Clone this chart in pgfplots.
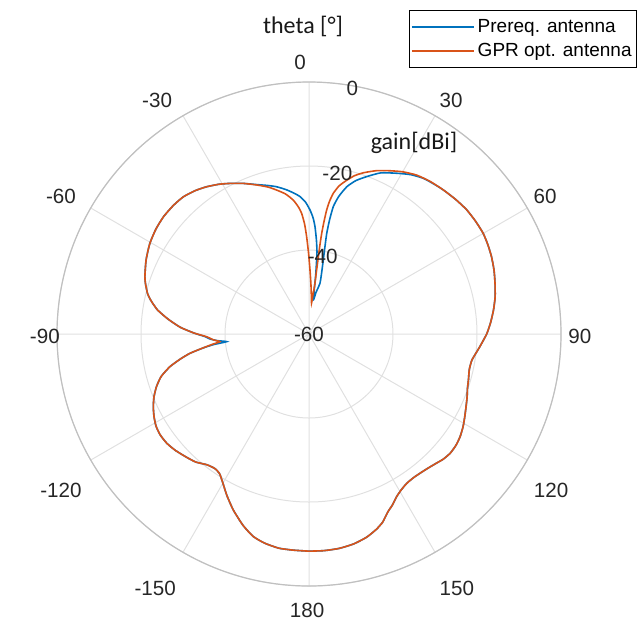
\documentclass[border=0pt]{standalone}
\usepackage{pgfplots}
\pgfplotsset{compat=1.18}
\usepackage{pgfplotstable}
\usepgfplotslibrary{polar}
\usepackage{fontspec}
\setmainfont{Liberation Sans}
\newfontfamily\titlefont{Carlito}

\definecolor{prereq}{RGB}{0,114,189}
\definecolor{gpr}{RGB}{217,83,25}
\definecolor{gridgray}{RGB}{224,224,224}
\definecolor{rimgray}{RGB}{192,192,192}
\definecolor{ticktext}{RGB}{38,38,38}

% theta [deg] (clockwise from boresight), gain [dBi]
\pgfplotstableread{
t g
-180 -8.3
-176 -8.4
-172 -8.5
-168 -9.1
-164.6 -10.0
-161 -11.8
-156.7 -14.4
-153 -16.9
-150 -19.0
-147.4 -20.5
-145 -20.9
-142 -20.5
-138.5 -19.3
-135 -18.6
-131 -17.8
-127.5 -17.3
-124 -17.2
-121 -17.5
-118 -18.2
-115 -19.1
-112 -20.2
-109 -21.6
-106 -23.4
-103.2 -26.0
-101 -28.8
-99.2 -31.3
-97.5 -34.6
-96.3 -37.2
-95.3 -40.3
-94.2 -38.2
-92.8 -36.3
-91.5 -35.3
-89.5 -32.6
-87 -29.3
-84 -26.3
-81 -23.5
-78 -21.5
-76 -20.4
-73 -19.3
-70.7 -18.6
-65.6 -17.4
-60.4 -16.4
-55.5 -15.8
-51 -15.5
-46.5 -15.5
-42.5 -15.7
-38.5 -16.4
-34.8 -17.3
-31 -18.4
-27.7 -19.5
-23.5 -20.9
-19.3 -22.3
-15.5 -23.3
-12.4 -24.1
-9 -25.2
-6 -26.3
-3.75 -27.2
-1.5 -28.6
0.5 -30.5
2 -32.3
3.2 -34.4
4.5 -37.5
5.5 -40.2
5.9 -42.3
6.5 -46.0
7.2 -51.8
9.5 -50.0
12.2 -47.6
11.5 -44.5
10.9 -42.0
10.3 -38.5
10.0 -35.7
10.2 -32.5
10.8 -29.1
12.2 -26.5
14.4 -23.8
17 -21.8
20.1 -20.1
24 -18.0
28.6 -16.4
32.5 -15.0
36.3 -14.0
40 -13.5
43 -13.1
47.5 -12.6
51.8 -12.2
56 -12.1
60 -12.1
63.5 -12.4
67 -12.8
71 -13.4
74.8 -14.1
78.7 -14.8
82.6 -15.7
86.5 -16.7
90 -17.7
94.5 -19.3
99 -20.7
102.5 -20.9
106 -20.5
109 -20.1
111.6 -19.5
114.8 -18.8
118 -18.0
121 -17.2
124.2 -16.5
127.2 -16.1
130.2 -16.0
133 -16.3
135.4 -16.8
138.4 -17.3
141.4 -17.6
144 -17.7
146.8 -17.5
149.3 -16.9
151.7 -16.0
154 -14.7
156.2 -13.6
158.6 -11.9
161 -10.8
164.2 -9.7
168 -8.9
172 -8.45
176 -8.3
180 -8.3
}\prereqtable

\pgfplotstableread{
t g
-180 -8.3
-176 -8.4
-172 -8.5
-168 -9.1
-164.6 -10.0
-161 -11.8
-156.7 -14.4
-153 -16.9
-150 -19.0
-147.4 -20.5
-145 -20.9
-142 -20.5
-138.5 -19.3
-135 -18.6
-131 -17.8
-127.5 -17.3
-124 -17.2
-121 -17.5
-118 -18.2
-115 -19.1
-112 -20.2
-109 -21.6
-106 -23.4
-103.2 -26.0
-101 -28.8
-99.2 -31.3
-97.5 -34.5
-96 -37.0
-94.9 -38.7
-93.5 -37.2
-91.5 -35.6
-89.5 -32.6
-87 -29.3
-84 -26.3
-81 -23.5
-78 -21.5
-76 -20.4
-73 -19.3
-70.7 -18.6
-65.6 -17.4
-60.4 -16.4
-55.5 -15.8
-51 -15.5
-46.5 -15.5
-42.5 -15.7
-38.5 -16.4
-34.8 -17.3
-31 -18.4
-27.7 -19.5
-23.5 -20.9
-19.3 -22.4
-15.5 -23.7
-12.6 -24.9
-9.5 -26.2
-6.7 -27.9
-4.8 -29.6
-3.5 -31.2
-2.3 -33.8
-1.4 -36.8
-0.3 -40.8
0.9 -44.8
2.3 -48.3
3.6 -51.0
4.7 -52.6
5.6 -51.0
6.4 -49.2
6.7 -47.9
6.8 -44.5
6.9 -41.5
7.0 -38.5
7.2 -35.8
7.6 -33.0
8.1 -30.2
8.8 -28.0
9.8 -26.0
11.5 -24.0
13.8 -22.3
16 -20.8
18.6 -19.5
22.5 -17.9
26.4 -16.6
30 -15.4
34.1 -14.3
38.5 -13.6
43 -13.1
47.5 -12.6
51.8 -12.2
56 -12.1
60 -12.1
63.5 -12.4
67 -12.8
71 -13.4
74.8 -14.1
78.7 -14.8
82.6 -15.7
86.5 -16.7
90 -17.7
94.5 -19.3
99 -20.7
102.5 -20.9
106 -20.5
109 -20.1
111.6 -19.5
114.8 -18.8
118 -18.0
121 -17.2
124.2 -16.5
127.2 -16.1
130.2 -16.0
133 -16.3
135.4 -16.8
138.4 -17.3
141.4 -17.6
144 -17.7
146.8 -17.5
149.3 -16.9
151.7 -16.0
154 -14.7
156.2 -13.6
158.6 -11.9
161 -10.8
164.2 -9.7
168 -8.9
172 -8.45
176 -8.3
180 -8.3
}\gprtable

\newcommand\tickfont{\fontsize{10.3}{12}\selectfont}
\newcommand\legfont{\fontsize{9.5}{11}\selectfont}

\begin{document}
\begin{tikzpicture}
\useasboundingbox[x=0.5pt,y=0.5pt] (-309,-294) rectangle (331,334);
\begin{polaraxis}[
  at={(0pt,0pt)}, anchor=center,
  scale only axis, width=252pt, height=252pt,
  xmin=0, xmax=360, ymin=0, ymax=60,
  xtick={0,30,...,330}, ytick={0,20,40,60},
  xticklabels={}, yticklabels={},
  major tick length=0pt,
  grid=major,
  major grid style={gridgray, line width=0.5pt},
  separate axis lines,
  x axis line style={rimgray, line width=0.6pt},
  y axis line style={draw=none},
  clip=false,
  legend cell align=left,
  legend style={
    at={(1.151,1.143)}, anchor=north east,
    draw=black, line width=0.5pt, fill=white,
    inner xsep=1pt, inner ysep=2.8pt,
    nodes={inner sep=1.5pt, text=black},
    font=\legfont,
    row sep=1pt,
  },
  legend image code/.code={\draw[#1, line width=0.8pt] (0pt,0pt) -- (31pt,0pt);},
]
% gain is shown on a radial scale from -60 dBi (centre) to 0 dBi (rim);
% theta runs clockwise with 0 deg at the top
\addplot[prereq, line width=0.8pt, smooth, tension=0.35]
  table[x expr=90-\thisrow{t}, y expr=\thisrow{g}+60] {\prereqtable};
\addlegendentry{Prereq. antenna}
\addplot[gpr, line width=0.8pt, smooth, tension=0.35]
  table[x expr=90-\thisrow{t}, y expr=\thisrow{g}+60] {\gprtable};
\addlegendentry{GPR opt. antenna}

% angular tick labels (theta)
\begin{scope}[every node/.style={font=\tickfont, text=ticktext}]
\node at (axis cs:91.9,64.8) {0};
\node at (axis cs:58.75,65.2) {30};
\node at (axis cs:30.3,65.1) {60};
\node at (axis cs:-0.6,64.5) {90};
\node at (axis cs:-32.8,68.6) {120};
\node at (axis cs:-59.8,70.0) {150};
\node at (axis cs:-90.4,65.7) {180};
\node at (axis cs:238.8,70.7) {-150};
\node at (axis cs:212.2,69.8) {-120};
\node at (axis cs:180.6,62.9) {-90};
\node at (axis cs:150.9,67.6) {-60};
\node at (axis cs:123,66.4) {-30};
% radial tick labels (gain)
\node at (axis cs:80,59.3) {0};
\node at (axis cs:80,38.9) {-20};
\node at (axis cs:80,18.8) {-40};
\node at (axis cs:80,0) {-60};
\end{scope}

\node[font=\titlefont\fontsize{12}{14}\selectfont, text=black!90] at (axis cs:91.1,73.3) {theta [°]};
\node[font=\titlefont\fontsize{12}{14}\selectfont, text=black!90] at (axis cs:61.2,51.9) {gain[dBi]};
\end{polaraxis}
\end{tikzpicture}
\end{document}
